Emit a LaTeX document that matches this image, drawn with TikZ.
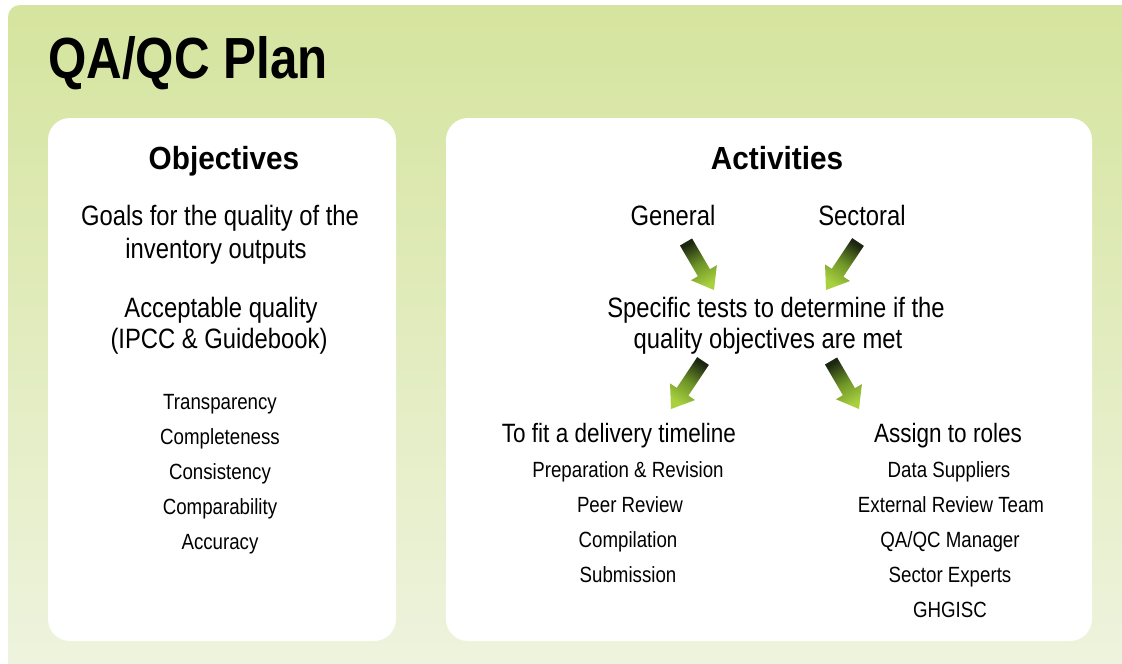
\documentclass[tikz,border=0pt]{standalone}
\usepackage{fontspec}
\setmainfont{Liberation Sans}
\newfontfamily\nf[FakeStretch=0.85]{Liberation Sans}
\newfontfamily\nfw[FakeStretch=0.93]{Liberation Sans}
\usetikzlibrary{calc}
\definecolor{bgtop}{HTML}{D5E49E}
\definecolor{bgbot}{HTML}{EFF4E0}
\definecolor{adark}{HTML}{1C2611}
\definecolor{amid}{HTML}{6E9428}
\definecolor{alight}{HTML}{A9D13F}
\newcommand\garrow[3]{%
  \coordinate (#1n) at ($(#1)!0.64!(#2)$);
  \shade[top color=alight, bottom color=adark, middle color=amid, shading angle=#3]
  ($(#1)!7pt!90:(#2)$) -- ($(#1n)!7pt!90:(#2)$) -- ($(#1n)!15pt!90:(#2)$) -- (#2)
  -- ($(#1n)!15pt!-90:(#2)$) -- ($(#1n)!7pt!-90:(#2)$) -- ($(#1)!7pt!-90:(#2)$) -- cycle;
}
\tikzset{
  panel/.style={fill=white, rounded corners=22pt},
  ttl/.style={inner sep=0pt, anchor=base west, font=\nf\bfseries\fontsize{58}{60}\selectfont},
  head/.style={inner sep=0pt, anchor=base, font=\nfw\bfseries\fontsize{32}{36}\selectfont},
  body/.style={inner sep=0pt, anchor=base, font=\nf\fontsize{28}{32}\selectfont},
  sub/.style={inner sep=0pt, anchor=base, font=\nf\fontsize{26.5}{30}\selectfont},
  item/.style={inner sep=0pt, anchor=base, font=\nf\fontsize{22}{26}\selectfont},
}
\begin{document}
\begin{tikzpicture}[x=1pt,y=-1pt]
\useasboundingbox (0,0) rectangle (1122,664);
\fill[white] (0,0) rectangle (1122,664);
\shade[top color=bgtop, bottom color=bgbot, rounded corners=12pt] (8,5) rectangle (1140,690);
\fill[panel] (48,118) rectangle (396,641);
\fill[panel] (446,118) rectangle (1092,641);

\node[ttl] (title) at (48,78) {QA/QC Plan};

\node[head] (obj) at (224,169) {Objectives};
\node[body] (goals1) at (220,225) {Goals for the quality of the};
\node[body] (goals2) at (216,258) {inventory outputs};
\node[body] (acc1) at (221,317) {Acceptable quality};
\node[body] (acc2) at (219,348) {(IPCC \& Guidebook)};
\node[item] (l1) at (220,409) {Transparency};
\node[item] (l2) at (220,444) {Completeness};
\node[item] (l3) at (220,479) {Consistency};
\node[item] (l4) at (220,514) {Comparability};
\node[item] (l5) at (220,549) {Accuracy};

\node[head] (act) at (777,169) {Activities};
\node[body] (gen) at (673,225) {General};
\node[body] (sec) at (862,225) {Sectoral};
\node[body] (spec1) at (776,317) {Specific tests to determine if the};
\node[body] (spec2) at (768,348) {quality objectives are met};
\node[sub] (time) at (619,442) {To fit a delivery timeline};
\node[item] (t1) at (628,477) {Preparation \& Revision};
\node[item] (t2) at (630,512) {Peer Review};
\node[item] (t3) at (628,547) {Compilation};
\node[item] (t4) at (628,582) {Submission};
\node[sub] (roles) at (948,442) {Assign to roles};
\node[item] (r1) at (949,477) {Data Suppliers};
\node[item] (r2) at (951,512) {External Review Team};
\node[item] (r3) at (950,547) {QA/QC Manager};
\node[item] (r4) at (950,582) {Sector Experts};
\node[item] (r5) at (950,617) {GHGISC};

\coordinate (a1) at (686,242); \coordinate (a1t) at (714,290);
\coordinate (a2) at (858,242); \coordinate (a2t) at (826,290);
\coordinate (a3) at (703,361); \coordinate (a3t) at (671,409);
\coordinate (a4) at (831,361); \coordinate (a4t) at (859,409);
\garrow{a1}{a1t}{-150}
\garrow{a2}{a2t}{146.3}
\garrow{a3}{a3t}{146.3}
\garrow{a4}{a4t}{-150}
\end{tikzpicture}
\end{document}
